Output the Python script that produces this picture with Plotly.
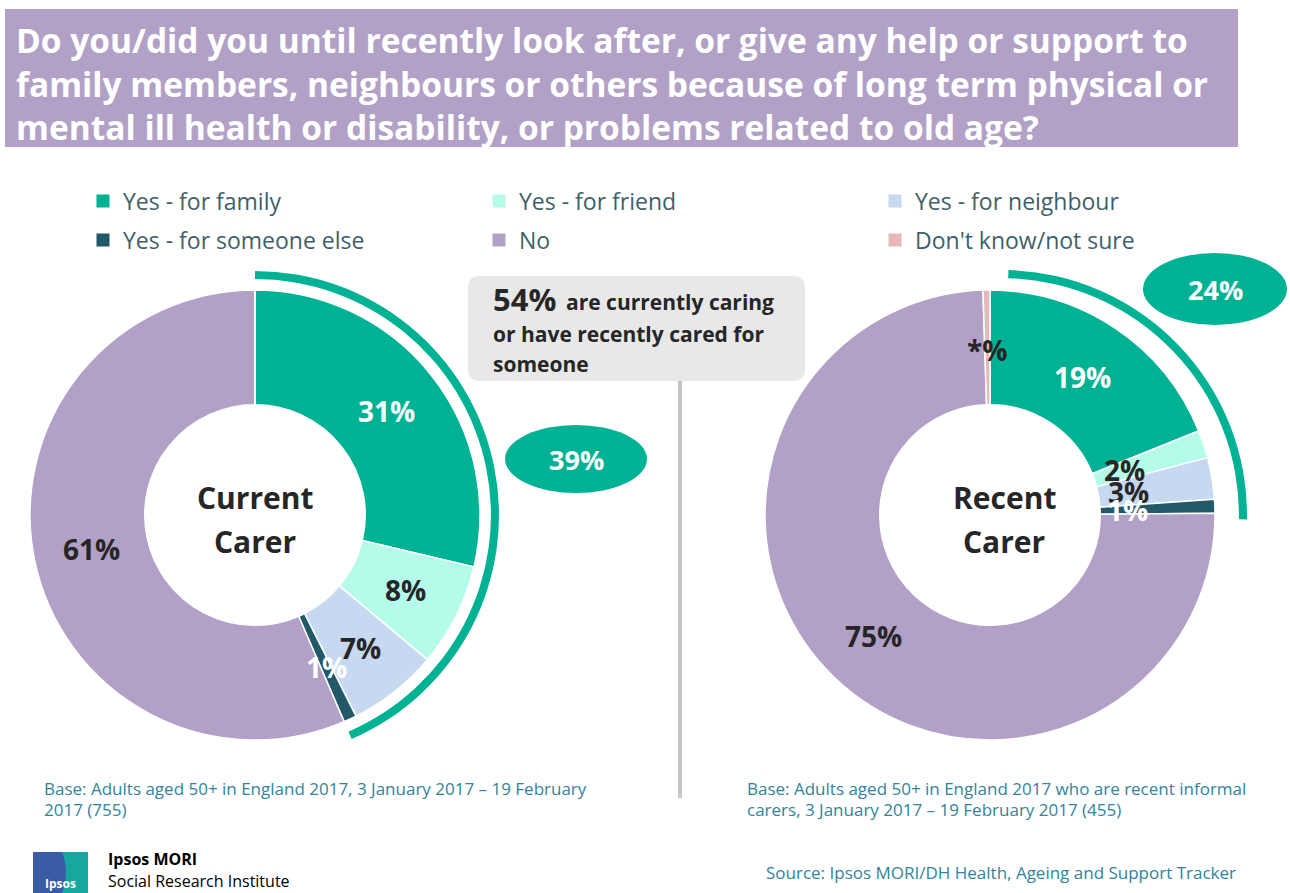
"""
Carers donut comparison (Ipsos MORI style slide) rebuilt with Plotly.
"""

import math
import plotly.graph_objects as go

W, H = 1290, 893

# ---- data -------------------------------------------------------------
categories = ['Yes - for family', 'Yes - for friend', 'Yes - for neighbour',
              'Yes - for someone else', 'No', "Don't know/not sure"]
current_values = [31, 8, 7, 1, 61, 0]
current_text = ['31%', '8%', '7%', '1%', '61%', '']
recent_values = [19, 2, 3, 1, 75, 0.5]
recent_text = ['19%', '2%', '3%', '1%', '75%', '*%']
is_yes = [True, True, True, True, False, False]
current_yes_text = '39%'
recent_yes_text = '24%'
combined_text = '54%'

title_lines = [
    'Do you/did you until recently look after, or give any help or support to',
    'family members, neighbours or others because of long term physical or',
    'mental ill health or disability, or problems related to old age?',
]
base_current = ('Base: Adults aged 50+ in England 2017, 3 January 2017 \u2013 19 February',
                '2017 (755)')
base_recent = ('Base: Adults aged 50+ in England 2017 who are recent informal',
               'carers, 3 January 2017 \u2013 19 February 2017 (455)')
source_text = 'Source: Ipsos MORI/DH Health, Ageing and Support Tracker'

# ---- styles -----------------------------------------------------------
colors = ['#00b294', '#b5fbea', '#c6d9f0', '#215968', '#b2a1c7', '#e6b9b8']
label_colors_current = ['white', '#262626', '#262626', 'white', '#262626', '#262626']
label_colors_recent = ['white', '#262626', '#262626', 'white', '#262626', '#262626']
label_radius_current = [168, 168, 170, 168, 167, 165]
label_radius_recent = [166, 142, 140, 138, 168, 165]
TEAL = '#00b294'
PURPLE = '#b2a1c7'
DARK = '#262626'
BASE_COL = '#31849b'
LEGEND_COL = '#3f5f6b'
FONT = 'Open Sans'

LEFT_C, RIGHT_C = (255, 515), (990, 515)
PIE_R, HOLE = 225, 0.49


def px(x):
    return x / W


def py(y):
    return 1 - y / H


def domain(cx, cy, r):
    return dict(x=[px(cx - r), px(cx + r)], y=[py(cy + r), py(cy - r)])


def label_positions(values, center, radii):
    total = sum(values)
    cum = 0
    out = []
    for v, r in zip(values, radii):
        ang = math.radians((cum + v / 2) / total * 360)
        out.append((center[0] + r * math.sin(ang), center[1] - r * math.cos(ang)))
        cum += v
    return out


fig = go.Figure()

# hidden pixel-space axes for legend entries, shapes and labels
fig.update_xaxes(range=[0, W], visible=False, fixedrange=True)
fig.update_yaxes(range=[H, 0], visible=False, fixedrange=True)

# donuts
for vals, center in [(current_values, LEFT_C), (recent_values, RIGHT_C)]:
    fig.add_trace(go.Pie(
        values=vals, labels=categories, sort=False, direction='clockwise',
        hole=HOLE, textinfo='none', hoverinfo='label+value', showlegend=False,
        marker=dict(colors=colors, line=dict(color='white', width=1.5)),
        domain=domain(center[0], center[1], PIE_R),
    ))

# outer arcs marking the "yes" share
arcs = [(current_values, (255, 515), 244, 0), (recent_values, (1002, 515), 245, 1.5)]
for vals, center, r, rot in arcs:
    yes_total = sum(v for v, y in zip(vals, is_yes) if y)
    rest = sum(vals) - yes_total
    fig.add_trace(go.Pie(
        values=[yes_total, rest], sort=False, direction='clockwise', rotation=rot,
        hole=0.967, textinfo='none', hoverinfo='skip', showlegend=False,
        marker=dict(colors=[TEAL, 'rgba(0,0,0,0)'], line=dict(width=0)),
        domain=domain(center[0], center[1], r),
    ))

# legend entries (two rows of three)
for i, (name, col) in enumerate(zip(categories, colors)):
    fig.add_trace(go.Scatter(
        x=[None], y=[None], mode='markers', name=name,
        marker=dict(symbol='square', size=13, color=col),
        legend='legend' if i < 3 else 'legend2', hoverinfo='skip',
    ))

legend_common = dict(orientation='h', xanchor='left', yanchor='middle',
                     entrywidth=351, entrywidthmode='pixels',
                     font=dict(family=FONT, size=23, color=LEGEND_COL),
                     bgcolor='rgba(0,0,0,0)', itemclick=False, itemdoubleclick=False)

shapes = [
    # title banner
    dict(type='rect', xref='x', yref='y', x0=5, x1=1238, y0=9, y1=147,
         fillcolor=PURPLE, line=dict(width=0), layer='below'),
    # callout box
    dict(type='path', xref='x', yref='y', layer='below',
         path='M 480 276 L 793 276 Q 805 276 805 288 L 805 369 Q 805 381 793 381 '
              'L 480 381 Q 468 381 468 369 L 468 288 Q 468 276 480 276 Z',
         fillcolor='#e8e8e8', line=dict(width=0)),
    # divider
    dict(type='line', xref='x', yref='y', x0=680, x1=680, y0=381, y1=798,
         line=dict(color='#c4c4c4', width=4)),
    # share bubbles
    dict(type='circle', xref='x', yref='y', x0=505, x1=647, y0=425, y1=493,
         fillcolor=TEAL, line=dict(width=0)),
    dict(type='circle', xref='x', yref='y', x0=1143, x1=1287, y0=253, y1=325,
         fillcolor=TEAL, line=dict(width=0)),
    # logo
    dict(type='rect', xref='x', yref='y', x0=33, x1=88, y0=852, y1=893,
         fillcolor='#3b5ba5', line=dict(width=0)),
    dict(type='path', xref='x', yref='y',
         path='M 62 852 L 88 852 L 88 893 L 62 893 Q 70 872 62 852 Z',
         fillcolor='#16a89e', line=dict(width=0)),
]

annotations = []


def note(x, y, text, size, color=DARK, xanchor='left', yanchor='middle', bold=False):
    annotations.append(dict(
        x=x, y=y, xref='x', yref='y', text=f'<b>{text}</b>' if bold else text,
        showarrow=False, xanchor=xanchor, yanchor=yanchor,
        align=xanchor if xanchor != 'center' else 'center',
        font=dict(family=FONT, size=size, color=color),
    ))


for i, line in enumerate(title_lines):
    note(14, 40 + i * 43.5, line, 33.5, color='white', bold=True)

# slice labels
for texts, vals, center, radii, cols in [
        (current_text, current_values, LEFT_C, label_radius_current, label_colors_current),
        (recent_text, recent_values, RIGHT_C, label_radius_recent, label_colors_recent)]:
    for t, (x, y), c in zip(texts, label_positions(vals, center, radii), cols):
        if t:
            note(x, y, t, 28, color=c, xanchor='center', bold=True)

note(255, 497, 'Current', 30, xanchor='center', bold=True)
note(255, 541, 'Carer', 30, xanchor='center', bold=True)
note(1004, 497, 'Recent', 30, xanchor='center', bold=True)
note(1004, 541, 'Carer', 30, xanchor='center', bold=True)

note(576, 459, current_yes_text, 27, color='white', xanchor='center', bold=True)
note(1215, 289, recent_yes_text, 27, color='white', xanchor='center', bold=True)

note(491, 299, combined_text, 31, bold=True)
note(564, 302, 'are currently caring', 21, bold=True)
note(491, 334, 'or have recently cared for', 21, bold=True)
note(491, 364, 'someone', 21, bold=True)

note(42, 788, base_current[0], 17, color=BASE_COL)
note(42, 809, base_current[1], 17, color=BASE_COL)
note(745, 788, base_recent[0], 17, color=BASE_COL)
note(745, 809, base_recent[1], 17, color=BASE_COL)
note(1238, 872, source_text, 17, color=BASE_COL, xanchor='right')

note(106, 859, 'Ipsos MORI', 16, color='black', bold=True)
note(106, 881, 'Social Research Institute', 16, color='black')
note(60, 883, 'Ipsos', 12, color='white', xanchor='center', bold=True)

fig.update_layout(
    width=W, height=H,
    margin=dict(l=0, r=0, t=0, b=0),
    paper_bgcolor='white', plot_bgcolor='white',
    font=dict(family=FONT, color=DARK),
    shapes=shapes,
    annotations=annotations,
    legend=dict(x=px(83), y=py(201), **legend_common),
    legend2=dict(x=px(83), y=py(240), **legend_common),
    hovermode='closest',
)

# drop the default page margin so the figure fills the window exactly
fig.write_html("out.html", config={'displayModeBar': False},
               post_script="document.body.style.margin='0';")
